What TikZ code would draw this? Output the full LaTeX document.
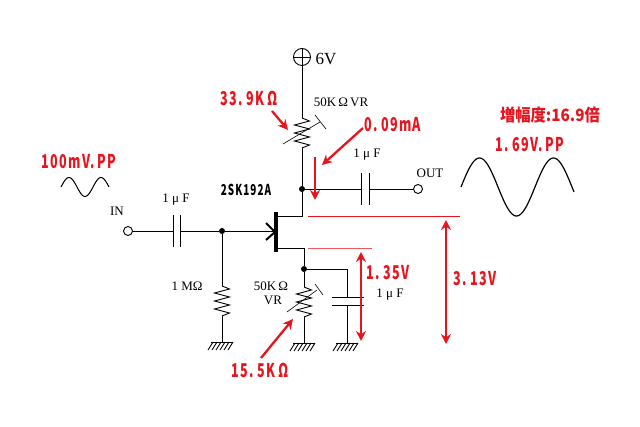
\documentclass[tikz,border=0pt]{standalone}
\usepackage{fontspec}
\setmainfont{Liberation Serif}
\newfontfamily\gothic[FakeStretch=0.66,LetterSpace=7]{Noto Sans CJK JP}
\newfontfamily\gothicjp[FakeStretch=0.9]{Noto Sans CJK JP}
\usetikzlibrary{arrows.meta}
\definecolor{ampred}{RGB}{230,20,30}
\tikzset{
	term/.style={draw, circle, fill=white, inner sep=0pt, minimum size=9pt},
	jdot/.style={fill=black, circle, inner sep=0pt, minimum size=6pt},
	blk/.style={font=\fontsize{13}{13}\selectfont, inner sep=0pt},
	red lbl/.style={font=\fontsize{19}{19}\selectfont\gothic\bfseries, text=ampred, inner sep=0pt},
	red arr/.style={draw=ampred, line width=2.3pt, -{Stealth[length=10pt,width=10pt]}},
	red both/.style={draw=ampred, line width=2.3pt, {Stealth[length=10pt,width=10pt]}-{Stealth[length=10pt,width=10pt]}},
}
% zigzag from top point, 30 high
\def\zigres(#1,#2)(#3){\draw (#1,#2) -- ++(#3,3) -- ++(-2*#3,4) -- ++(2*#3,4) -- ++(-2*#3,4) -- ++(2*#3,4) -- ++(-2*#3,4) -- ++(2*#3,4) -- (#1,#2+30);}
\def\gnd(#1,#2){\draw (#1-11,#2) -- (#1+11,#2);
	\foreach \i in {-9,-5,...,11} {\draw (#1+\i,#2) -- (#1+\i-5,#2+8);}}

\begin{document}
\begin{tikzpicture}[x=1pt, y=-1pt, line width=0.9pt]
	\useasboundingbox (0,0) rectangle (640,427);
	%%%%% supply %%%%%
	\node[draw, circle, inner sep=0pt, minimum size=17pt] (vdd) at (302,57) {};
	\draw (vdd.north) -- (vdd.south);
	\draw (vdd.west) -- (vdd.east);
	\node[blk, font=\fontsize{17}{17}\selectfont] (l6v) at (326,59) {6V};

	\coordinate (rdtop) at (302,118);
	\coordinate (rdbot) at (302,148);
	\node[jdot] (jd) at (302,189) {};
	\coordinate (dcorner) at (302,216);
	\coordinate (dgate) at (277,216);
	\draw (vdd) -- (rdtop);
	\zigres(302,118)(7.5);
	\draw (rdbot) -- (jd);
	\draw (jd) -- (dcorner) -- (dgate);
	\draw[line width=0.6pt] (283,144) -- (320,122);
	\draw[line width=0.6pt] (315,115) -- (326,129);

	%%%%% output %%%%%
	\node[term] (out) at (418,189) {};
	\coordinate (c2a) at (361,189);
	\coordinate (c2b) at (369,189);
	\draw (jd) -- (c2a);
	\draw (c2b) -- (out);
	\draw (c2a) ++(0,-16) -- ++(0,32);
	\draw (c2b) ++(0,-16) -- ++(0,32);

	%%%%% input %%%%%
	\node[term] (in) at (128,231) {};
	\coordinate (c1a) at (173,231);
	\coordinate (c1b) at (180,231);
	\node[jdot] (jg) at (222,231) {};
	\coordinate (gate) at (275,231);
	\draw (in) -- (c1a);
	\draw (c1b) -- (jg) -- (gate);
	\draw (c1a) ++(0,-16) -- ++(0,32);
	\draw (c1b) ++(0,-16) -- ++(0,32);
	\draw[line width=2pt] (266,223) -- (275,232) -- (266,240);
	\draw[line width=3.5pt] (276,212) -- (276,252);

	\draw (jg) -- (222,286);
	\zigres(222,286)(7.5);
	\draw (222,316) -- (222,342);
	\gnd(222,342);

	%%%%% source %%%%%
	\coordinate (scorner) at (304,248);
	\node[jdot] (js) at (304,269) {};
	\draw (277,248) -- (scorner) -- (js);
	\draw (js) -- (304,287);
	\zigres(304,287)(7.5);
	\draw (304,317) -- (304,343);
	\gnd(304,343);
	\draw[line width=0.6pt] (287,312) -- (317,290);
	\draw[line width=0.6pt] (315,284) -- (323,295);

	\coordinate (c3a) at (347,297);
	\coordinate (c3b) at (347,305);
	\draw (js) -- (347,269) -- (c3a);
	\draw (c3b) -- (347,343);
	\draw (c3a) ++(-15,0) -- ++(32,0);
	\draw (c3b) ++(-15,0) -- ++(32,0);
	\gnd(347,343);

	%%%%% waves %%%%%
	\draw[line width=1pt, smooth, samples=60, domain=0:48] plot ({61+\x}, {187-9.5*sin(\x*11.25)});
	\draw[line width=1.2pt, smooth, samples=90, domain=0:113] plot ({461+\x}, {187-29*sin(\x*4.865)});

	%%%%% red marks %%%%%
	\draw[draw=ampred] (308,216) -- (460,216);
	\draw[draw=ampred!70] (308,248) -- (372,248);
	\draw[red both] (446,220) -- (446,344);
	\draw[red both] (361,252) -- (361,341);
	\draw[red arr] (272,111) -- (288,130);
	\draw[red arr] (363,128) -- (322,165);
	\draw[red arr] (315,157) -- (315,200);
	\draw[red arr] (261,358) -- (293,319);

	%%%%% labels %%%%%
	\node[blk] (lrd) at (341,102) {50K\,Ω\,VR};
	\node[blk] (lc2) at (367,155) {1 μ F};
	\node[blk] (lout) at (430,173) {OUT};
	\node[blk] (lin) at (117,211) {IN};
	\node[blk] (lc1) at (176,200) {1 μ F};
	\node[blk] (lrg) at (187,286) {1 MΩ};
	\node[blk] (lrs) at (271,286) {50K\,Ω};
	\node[blk] (lvr) at (273,300) {VR};
	\node[blk] (lc3) at (390,295) {1 μ F};
	\node[inner sep=0pt, font=\fontsize{15}{15}\selectfont\gothic\bfseries] (lfet) at (246,190) {2SK192A};
	\node[red lbl] (l339) at (249,98) {33.\,9K\,Ω};
	\node[red lbl] (lima) at (393,125) {0.\,09mA};
	\node[red lbl] (l135) at (388,273) {1.\,35V};
	\node[red lbl] (l313) at (475,279) {3.\,13V};
	\node[red lbl] (l155) at (260,370) {15.\,5K\,Ω};
	\node[red lbl] (lvin) at (79,162) {100mV.\,PP};
	\node[red lbl, font=\fontsize{17}{17}\selectfont\gothicjp\bfseries] (lgain) at (550,115) {増幅度:16.9倍};
	\node[red lbl] (lvout) at (530,145) {1.\,69V.\,PP};
\end{tikzpicture}
\end{document}
